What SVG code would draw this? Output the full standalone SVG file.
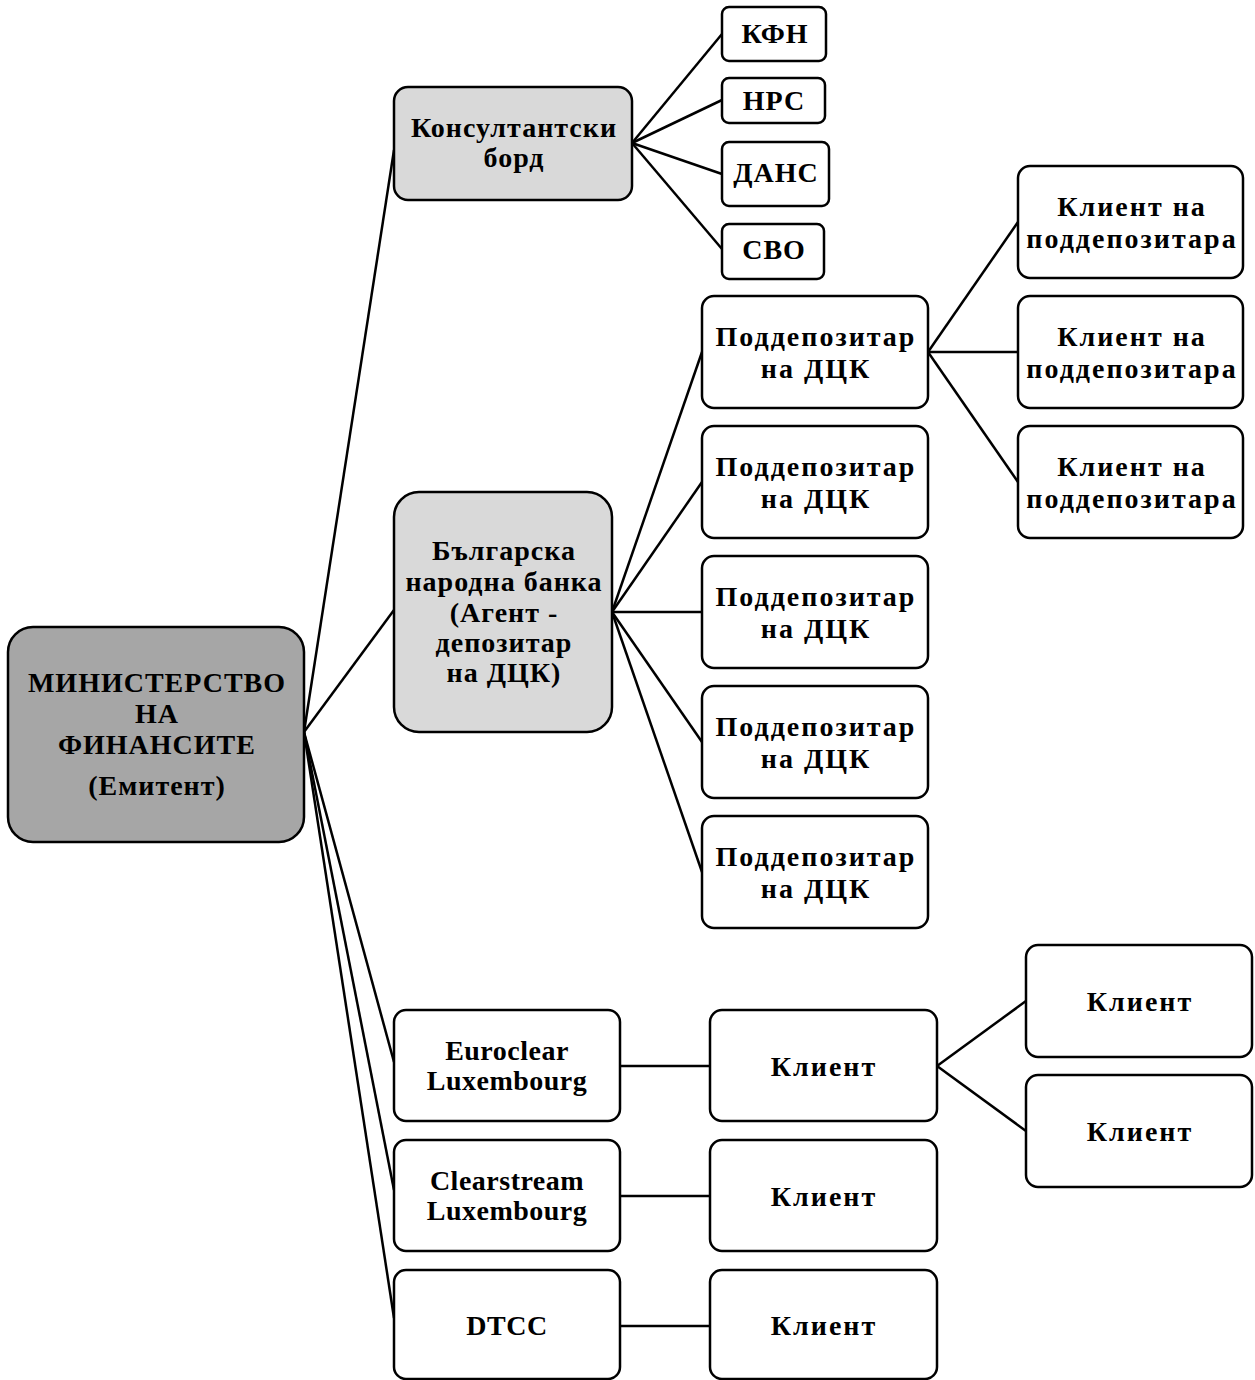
<svg xmlns="http://www.w3.org/2000/svg" width="1255" height="1380" viewBox="0 0 1255 1380">
<style>
.b{fill:#fff;stroke:#000;stroke-width:2.5}
.g1{fill:#a6a6a6;stroke:#000;stroke-width:2.5}
.g2{fill:#d9d9d9;stroke:#000;stroke-width:2.5}
.c line{stroke:#000;stroke-width:2.5}
text{font-family:"Liberation Serif","Times New Roman",serif;font-weight:bold;font-size:28px;text-anchor:middle;fill:#000;letter-spacing:1px}
.w text{letter-spacing:2px}
.l text{letter-spacing:0.5px}
</style>
<rect width="1255" height="1380" fill="#fff"/>
<g class="c" id="connectors">
<line x1="304" y1="732" x2="394" y2="150"/>
<line x1="304" y1="732" x2="394" y2="610"/>
<line x1="304" y1="732" x2="394" y2="1062"/>
<line x1="304" y1="732" x2="394" y2="1190"/>
<line x1="304" y1="732" x2="394" y2="1318"/>
<line x1="632" y1="143" x2="722" y2="34"/>
<line x1="632" y1="143" x2="722" y2="100"/>
<line x1="632" y1="143" x2="722" y2="174"/>
<line x1="632" y1="143" x2="722" y2="249"/>
<line x1="612" y1="612" x2="702" y2="352"/>
<line x1="612" y1="612" x2="702" y2="482"/>
<line x1="612" y1="612" x2="702" y2="612"/>
<line x1="612" y1="612" x2="702" y2="742"/>
<line x1="612" y1="612" x2="702" y2="872"/>
<line x1="928" y1="352" x2="1018" y2="222"/>
<line x1="928" y1="352" x2="1018" y2="352"/>
<line x1="928" y1="352" x2="1018" y2="482"/>
<line x1="620" y1="1066" x2="710" y2="1066"/>
<line x1="620" y1="1196" x2="710" y2="1196"/>
<line x1="620" y1="1326" x2="710" y2="1326"/>
<line x1="937" y1="1066" x2="1026" y2="1001"/>
<line x1="937" y1="1066" x2="1026" y2="1131"/>
</g>
<g id="ministry"><rect class="g1" x="8" y="627" width="296" height="215" rx="25"/>
<text x="157" y="692">МИНИСТЕРСТВО</text><text x="157" y="723">НА</text><text x="157" y="754">ФИНАНСИТЕ</text><text x="157" y="795">(Емитент)</text></g>
<g id="board"><rect class="g2" x="394" y="87" width="238" height="113" rx="14"/>
<text x="514" y="137">Консултантски</text><text x="514" y="167">борд</text></g>
<g id="kfn"><rect class="b" x="722" y="7" width="104" height="54" rx="7"/><text x="775" y="43">КФН</text></g>
<g id="nrs"><rect class="b" x="722" y="78" width="103" height="45" rx="7"/><text x="774" y="110">НРС</text></g>
<g id="dans"><rect class="b" x="722" y="142" width="107" height="64" rx="7"/><text x="776" y="182">ДАНС</text></g>
<g id="svo"><rect class="b" x="722" y="224" width="102" height="55" rx="7"/><text x="774" y="259">СВО</text></g>
<g id="bnb"><rect class="g2" x="394" y="492" width="218" height="240" rx="25"/>
<text x="504" y="560">Българска</text><text x="504" y="591">народна банка</text><text x="504" y="622">(Агент -</text><text x="504" y="652">депозитар</text><text x="504" y="682">на ДЦК)</text></g>
<g class="w">
<g id="sub1"><rect class="b" x="702" y="296" width="226" height="112" rx="12"/><text x="816" y="346">Поддепозитар</text><text x="816" y="378">на ДЦК</text></g>
<g id="sub2"><rect class="b" x="702" y="426" width="226" height="112" rx="12"/><text x="816" y="476">Поддепозитар</text><text x="816" y="508">на ДЦК</text></g>
<g id="sub3"><rect class="b" x="702" y="556" width="226" height="112" rx="12"/><text x="816" y="606">Поддепозитар</text><text x="816" y="638">на ДЦК</text></g>
<g id="sub4"><rect class="b" x="702" y="686" width="226" height="112" rx="12"/><text x="816" y="736">Поддепозитар</text><text x="816" y="768">на ДЦК</text></g>
<g id="sub5"><rect class="b" x="702" y="816" width="226" height="112" rx="12"/><text x="816" y="866">Поддепозитар</text><text x="816" y="898">на ДЦК</text></g>
<g id="sc1"><rect class="b" x="1018" y="166" width="225" height="112" rx="12"/><text x="1132" y="216">Клиент на</text><text x="1132" y="248">поддепозитара</text></g>
<g id="sc2"><rect class="b" x="1018" y="296" width="225" height="112" rx="12"/><text x="1132" y="346">Клиент на</text><text x="1132" y="378">поддепозитара</text></g>
<g id="sc3"><rect class="b" x="1018" y="426" width="225" height="112" rx="12"/><text x="1132" y="476">Клиент на</text><text x="1132" y="508">поддепозитара</text></g>
<g id="cl1"><rect class="b" x="710" y="1010" width="227" height="111" rx="12"/><text x="824" y="1076">Клиент</text></g>
<g id="cl2"><rect class="b" x="710" y="1140" width="227" height="111" rx="12"/><text x="824" y="1206">Клиент</text></g>
<g id="cl3"><rect class="b" x="710" y="1270" width="227" height="109" rx="12"/><text x="824" y="1335">Клиент</text></g>
<g id="cl4"><rect class="b" x="1026" y="945" width="226" height="112" rx="12"/><text x="1140" y="1011">Клиент</text></g>
<g id="cl5"><rect class="b" x="1026" y="1075" width="226" height="112" rx="12"/><text x="1140" y="1141">Клиент</text></g>
</g>
<g class="l">
<g id="euroclear"><rect class="b" x="394" y="1010" width="226" height="111" rx="12"/><text x="507" y="1060">Euroclear</text><text x="507" y="1090">Luxembourg</text></g>
<g id="clearstream"><rect class="b" x="394" y="1140" width="226" height="111" rx="12"/><text x="507" y="1190">Clearstream</text><text x="507" y="1220">Luxembourg</text></g>
<g id="dtcc"><rect class="b" x="394" y="1270" width="226" height="109" rx="12"/><text x="507" y="1335">DTCC</text></g>
</g>
</svg>
